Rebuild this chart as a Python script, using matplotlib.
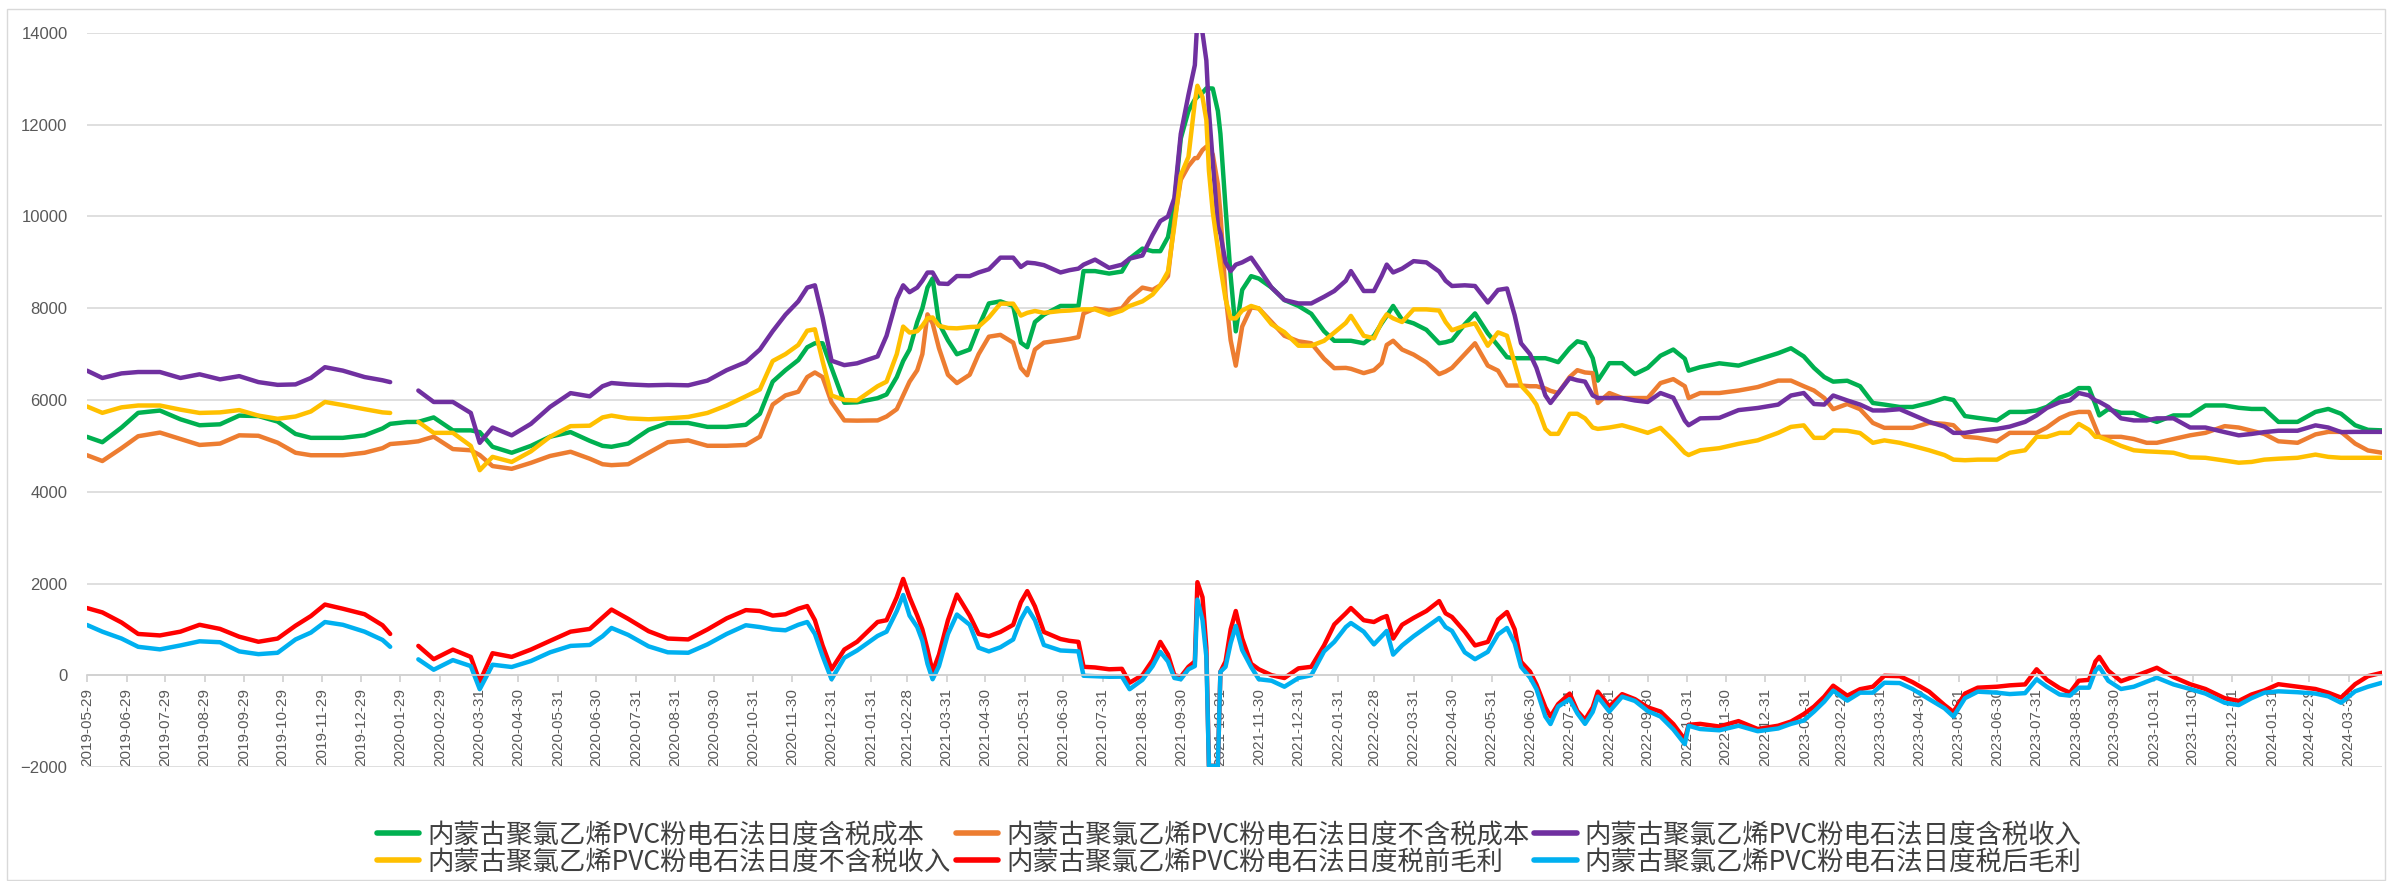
import numpy as np
import pandas as pd
import matplotlib
matplotlib.use('Agg')
import matplotlib.pyplot as plt
from matplotlib.patches import Rectangle

# dates (gap in Jan/Feb 2020 for the revenue / profit series)
dates = [
    "2019-05-29", "2019-06-10", "2019-06-25", "2019-07-08", "2019-07-25", "2019-08-10", "2019-08-25", "2019-09-10",
    "2019-09-25", "2019-10-10", "2019-10-25", "2019-11-08", "2019-11-20", "2019-12-01", "2019-12-15", "2020-01-01",
    "2020-01-15", "2020-01-21", "2020-02-03", "2020-02-12", "2020-02-24", "2020-03-10", "2020-03-24", "2020-03-31",
    "2020-04-10", "2020-04-25", "2020-05-10", "2020-05-25", "2020-06-10", "2020-06-25", "2020-07-05", "2020-07-12",
    "2020-07-25", "2020-08-10", "2020-08-25", "2020-09-10", "2020-09-25", "2020-10-10", "2020-10-25", "2020-11-05",
    "2020-11-15", "2020-11-25", "2020-12-05", "2020-12-12", "2020-12-18", "2020-12-24", "2020-12-31", "2021-01-10",
    "2021-01-20", "2021-02-05", "2021-02-12", "2021-02-20", "2021-02-25", "2021-03-02", "2021-03-08", "2021-03-12",
    "2021-03-16", "2021-03-20", "2021-03-25", "2021-04-01", "2021-04-08", "2021-04-18", "2021-04-25", "2021-05-03",
    "2021-05-12", "2021-05-22", "2021-05-28", "2021-06-02", "2021-06-08", "2021-06-15", "2021-06-28", "2021-07-05",
    "2021-07-12", "2021-07-16", "2021-07-25", "2021-08-05", "2021-08-15", "2021-08-21", "2021-08-31", "2021-09-08",
    "2021-09-14", "2021-09-20", "2021-09-25", "2021-09-30", "2021-10-06", "2021-10-11", "2021-10-13", "2021-10-17",
    "2021-10-20", "2021-10-22", "2021-10-25", "2021-10-29", "2021-10-31", "2021-11-04", "2021-11-08", "2021-11-12",
    "2021-11-17", "2021-11-24", "2021-11-30", "2021-12-10", "2021-12-20", "2021-12-31", "2022-01-10", "2022-01-20",
    "2022-01-28", "2022-02-06", "2022-02-10", "2022-02-20", "2022-02-28", "2022-03-06", "2022-03-10", "2022-03-15",
    "2022-03-22", "2022-03-31", "2022-04-10", "2022-04-20", "2022-04-25", "2022-04-30", "2022-05-10", "2022-05-18",
    "2022-05-28", "2022-06-05", "2022-06-12", "2022-06-18", "2022-06-23", "2022-06-30", "2022-07-05", "2022-07-12",
    "2022-07-16", "2022-07-22", "2022-07-31", "2022-08-06", "2022-08-12", "2022-08-18", "2022-08-22", "2022-08-31",
    "2022-09-10", "2022-09-20", "2022-09-30", "2022-10-10", "2022-10-20", "2022-10-29", "2022-11-01", "2022-11-10",
    "2022-11-25", "2022-12-10", "2022-12-25", "2023-01-10", "2023-01-20", "2023-01-30", "2023-02-07", "2023-02-15",
    "2023-02-22", "2023-03-05", "2023-03-15", "2023-03-25", "2023-04-03", "2023-04-15", "2023-04-25", "2023-05-08",
    "2023-05-20", "2023-05-27", "2023-06-05", "2023-06-15", "2023-06-30", "2023-07-10", "2023-07-22", "2023-07-31",
    "2023-08-08", "2023-08-18", "2023-08-26", "2023-09-02", "2023-09-10", "2023-09-15", "2023-09-18", "2023-09-25",
    "2023-10-05", "2023-10-15", "2023-10-25", "2023-11-02", "2023-11-15", "2023-11-28", "2023-12-10", "2023-12-25",
    "2024-01-05", "2024-01-15", "2024-01-25", "2024-02-05", "2024-02-20", "2024-03-05", "2024-03-15", "2024-03-25",
    "2024-04-05", "2024-04-15", "2024-04-26",
]

nan = np.nan

cost_tax = [
    5197, 5080, 5400, 5720, 5770, 5580, 5450, 5470, 5660, 5650, 5530, 5260, 5175, 5175, 5175, 5230,
    5380, 5480, 5520, 5523, 5620, 5338, 5338, 5300, 4980, 4850, 5000, 5200, 5300, 5110, 5000, 4980,
    5050, 5350, 5500, 5500, 5414, 5414, 5460, 5700, 6400, 6650, 6870, 7150, 7237, 7237, 6700, 5940,
    5950, 6040, 6120, 6500, 6850, 7100, 7700, 8000, 8450, 8650, 7671, 7300, 6998, 7100, 7600, 8105,
    8150, 8050, 7250, 7150, 7700, 7860, 8050, 8050, 8050, 8810, 8810, 8756, 8800, 9082, 9300, 9244,
    9244, 9550, 10300, 11700, 12300, 12550, 12608, 12700, 12793, 12793, 12790, 12300, 11800, 10200, 8700, 7497,
    8400, 8700, 8647, 8450, 8180, 8050, 7880, 7500, 7291, 7291, 7291, 7237, 7400, 7671, 7834, 8050,
    7750, 7671, 7530, 7237, 7260, 7300, 7650, 7888, 7454, 7183, 6933, 6911, 6911, 6911, 6911, 6911,
    6880, 6825, 7128, 7280, 7237, 6911, 6423, 6803, 6803, 6564, 6700, 6965, 7100, 6900, 6640, 6716,
    6800, 6750, 6880, 7020, 7128, 6950, 6700, 6500, 6400, 6420, 6300, 5935, 5900, 5848, 5848, 5935,
    6043, 6000, 5650, 5610, 5555, 5740, 5740, 5772, 5850, 6050, 6130, 6260, 6260, 5900, 5664, 5800,
    5720, 5720, 5600, 5523, 5664, 5664, 5881, 5881, 5830, 5805, 5805, 5523, 5523, 5740, 5805, 5700,
    5450, 5350, 5338,
]

cost_notax = [
    4796, 4670, 4950, 5210, 5290, 5150, 5020, 5050, 5230, 5220, 5070, 4850, 4796, 4796, 4796, 4850,
    4950, 5040, 5070, 5100, 5200, 4930, 4904, 4800, 4560, 4500, 4630, 4780, 4872, 4720, 4600, 4580,
    4600, 4850, 5080, 5120, 5002, 5002, 5020, 5200, 5900, 6100, 6180, 6500, 6600, 6500, 5950, 5555,
    5550, 5555, 5640, 5800, 6098, 6400, 6650, 7000, 7867, 7671, 7128, 6550, 6369, 6550, 7000, 7380,
    7420, 7250, 6700, 6540, 7100, 7250, 7300, 7330, 7370, 7888, 7996, 7950, 8000, 8213, 8450, 8400,
    8500, 8700, 9900, 10800, 11100, 11273, 11273, 11450, 11522, 11500, 11350, 10700, 10058, 8300, 7300, 6749,
    7600, 8018, 7996, 7700, 7400, 7280, 7237, 6900, 6694, 6700, 6680, 6586, 6650, 6803, 7200, 7291,
    7100, 6990, 6820, 6564, 6620, 6700, 7000, 7237, 6749, 6640, 6315, 6315, 6315, 6300, 6300, 6250,
    6200, 6152, 6500, 6650, 6600, 6586, 5935, 6152, 6043, 6043, 6043, 6369, 6455, 6300, 6043, 6152,
    6152, 6206, 6282, 6423, 6423, 6300, 6206, 6043, 5800, 5913, 5800, 5501, 5393, 5393, 5393, 5501,
    5480, 5450, 5200, 5175, 5100, 5284, 5284, 5284, 5400, 5600, 5700, 5740, 5740, 5400, 5197, 5197,
    5197, 5150, 5067, 5067, 5150, 5230, 5284, 5430, 5400, 5330, 5260, 5100, 5067, 5250, 5305, 5305,
    5050, 4900, 4850,
]

rev_tax = [
    6640, 6480, 6580, 6610, 6610, 6480, 6560, 6450, 6520, 6390, 6330, 6340, 6480, 6715, 6640, 6500,
    6430, 6390, nan, 6206, 5957, 5957, 5718, 5067, 5400, 5230, 5480, 5850, 6150, 6080, 6300, 6370,
    6340, 6320, 6330, 6320, 6423, 6650, 6825, 7100, 7500, 7860, 8150, 8450, 8500, 7800, 6857, 6760,
    6800, 6950, 7400, 8200, 8500, 8350, 8452, 8600, 8778, 8780, 8539, 8530, 8702, 8700, 8780, 8850,
    9103, 9103, 8900, 8995, 8980, 8940, 8780, 8830, 8864, 8950, 9060, 8880, 8950, 9082, 9150, 9600,
    9900, 10000, 10400, 11800, 12650, 13300, 14300, 14000, 13400, 12300, 11200, 9787, 9624, 9000, 8810, 8950,
    9000, 9103, 8864, 8450, 8180, 8105, 8105, 8250, 8376, 8600, 8810, 8376, 8376, 8702, 8951, 8780,
    8864, 9027, 9000, 8800, 8600, 8485, 8500, 8485, 8126, 8400, 8430, 7850, 7237, 7000, 6700, 6100,
    5935, 6152, 6477, 6430, 6400, 6100, 6043, 6043, 6043, 5990, 5957, 6152, 6050, 5550, 5450, 5600,
    5610, 5780, 5826, 5900, 6098, 6152, 5913, 5900, 6098, 5990, 5900, 5772, 5772, 5800, 5680, 5523,
    5420, 5284, 5284, 5330, 5370, 5420, 5523, 5664, 5826, 5950, 5990, 6152, 6100, 5990, 5960, 5850,
    5600, 5555, 5555, 5600, 5600, 5400, 5400, 5300, 5230, 5260, 5300, 5330, 5330, 5447, 5400, 5300,
    5305, 5305, 5305,
]

rev_notax = [
    5859, 5720, 5840, 5880, 5880, 5790, 5718, 5730, 5780, 5660, 5590, 5640, 5750, 5957, 5890, 5800,
    5730, 5718, nan, 5523, 5284, 5284, 5000, 4470, 4760, 4650, 4880, 5200, 5430, 5440, 5620, 5660,
    5600, 5580, 5600, 5631, 5718, 5880, 6080, 6230, 6850, 7000, 7200, 7510, 7541, 6850, 6098, 6000,
    5990, 6300, 6400, 7000, 7600, 7470, 7500, 7620, 7780, 7800, 7617, 7570, 7562, 7590, 7600, 7800,
    8100, 8100, 7840, 7900, 7940, 7900, 7940, 7950, 7970, 7975, 7975, 7860, 7950, 8050, 8150, 8300,
    8500, 8800, 9800, 10900, 11300, 12500, 12850, 12600, 12100, 11000, 10100, 9300, 8900, 8200, 7780, 7780,
    7950, 8050, 7996, 7650, 7480, 7183, 7183, 7290, 7470, 7680, 7834, 7400, 7345, 7700, 7867, 7780,
    7700, 7975, 7975, 7950, 7700, 7520, 7620, 7671, 7183, 7475, 7400, 6800, 6315, 6100, 5900, 5370,
    5262, 5262, 5700, 5700, 5600, 5400, 5370, 5400, 5450, 5370, 5284, 5393, 5121, 4850, 4800, 4904,
    4950, 5045, 5121, 5284, 5414, 5447, 5175, 5175, 5338, 5330, 5280, 5067, 5120, 5067, 5000, 4904,
    4800, 4700, 4687, 4700, 4700, 4850, 4904, 5197, 5197, 5284, 5284, 5479, 5350, 5197, 5197, 5121,
    5000, 4904, 4880, 4870, 4850, 4750, 4740, 4680, 4633, 4650, 4700, 4720, 4740, 4810, 4760, 4740,
    4740, 4740, 4741,
]

profit_pre = [
    1465, 1370, 1150, 900, 868, 950, 1100, 1010, 840, 730, 800, 1080, 1290, 1541, 1450, 1330,
    1090, 900, nan, 640, 350, 560, 400, -141, 480, 400, 560, 750, 950, 1010, 1260, 1432,
    1230, 960, 800, 781, 998, 1240, 1420, 1400, 1300, 1330, 1450, 1508, 1200, 650, 130, 560,
    730, 1161, 1200, 1700, 2100, 1700, 1300, 1000, 564, 76, 450, 1200, 1758, 1300, 900, 850,
    944, 1100, 1590, 1834, 1500, 944, 790, 750, 727, 184, 170, 130, 140, -163, 0, 330,
    727, 450, 0, -33, 184, 300, 2029, 1700, 600, -1975, -1975, -1975, 76, 300, 1000, 1400,
    800, 250, 130, 0, -60, 150, 184, 650, 1107, 1350, 1465, 1200, 1161, 1250, 1291, 800,
    1100, 1250, 1400, 1617, 1350, 1270, 950, 650, 727, 1215, 1378, 1000, 293, 80, -200, -700,
    -900, -629, -400, -780, -970, -700, -358, -683, -412, -521, -700, -792, -1063, -1400, -1080, -1060,
    -1118, -1000, -1172, -1100, -1009, -846, -683, -467, -228, -445, -304, -250, -11, -20, -150, -358,
    -650, -800, -400, -271, -250, -220, -200, 130, -100, -280, -380, -119, -100, 300, 400, 100,
    -130, -30, 76, 163, -40, -195, -300, -500, -560, -420, -330, -195, -250, -300, -380, -488,
    -195, -20, 54,
]

profit_post = [
    1096, 950, 800, 620, 564, 650, 740, 720, 520, 460, 490, 780, 930, 1160, 1100, 950,
    770, 620, nan, 347, 120, 330, 200, -304, 230, 180, 310, 500, 640, 660, 850, 1031,
    880, 630, 500, 490, 673, 900, 1090, 1050, 1000, 980, 1100, 1161, 900, 420, -87, 380,
    540, 857, 950, 1400, 1750, 1300, 1050, 750, 250, -87, 200, 900, 1324, 1100, 600, 520,
    610, 780, 1215, 1465, 1200, 660, 540, 530, 520, -11, -20, -33, -30, -304, -100, 200,
    510, 300, -60, -87, 130, 200, 1649, 1200, 400, -1975, -1975, -1975, 76, 184, 700, 1074,
    550, 180, -87, -120, -250, -60, 0, 520, 727, 1050, 1139, 950, 673, 850, 966, 450,
    650, 850, 1050, 1248, 1050, 966, 500, 350, 510, 890, 1031, 700, 184, -50, -300, -900,
    -1063, -683, -521, -830, -1060, -800, -467, -792, -467, -560, -780, -900, -1180, -1500, -1100, -1172,
    -1200, -1100, -1220, -1160, -1060, -987, -792, -575, -336, -553, -380, -380, -163, -170, -300, -521,
    -720, -900, -500, -358, -380, -410, -390, -87, -250, -420, -445, -271, -271, 100, 184, -120,
    -300, -250, -141, -54, -200, -300, -400, -600, -650, -500, -380, -350, -370, -400, -460, -600,
    -350, -250, -163,
]

labels = [
    "内蒙古聚氯乙烯PVC粉电石法日度含税成本",
    "内蒙古聚氯乙烯PVC粉电石法日度不含税成本",
    "内蒙古聚氯乙烯PVC粉电石法日度含税收入",
    "内蒙古聚氯乙烯PVC粉电石法日度不含税收入",
    "内蒙古聚氯乙烯PVC粉电石法日度税前毛利",
    "内蒙古聚氯乙烯PVC粉电石法日度税后毛利",
]
colors = ["#00B050", "#ED7D31", "#7030A0", "#FFC000", "#FF0000", "#00B0F0"]

# axis labels: Excel monthly date axis (29th until Feb 2020, month ends after)
tick_dates = ["2019-05-29", "2019-06-29", "2019-07-29", "2019-08-29", "2019-09-29",
              "2019-10-29", "2019-11-29", "2019-12-29", "2020-01-29"]
tick_dates += list(pd.date_range("2020-02-29", "2024-03-31", freq="ME").strftime("%Y-%m-%d"))

W, H = 2387, 881
fig = plt.figure(figsize=(W / 100, H / 100), dpi=100)
ax = fig.add_axes([87 / W, 1 - 767 / H, (2382 - 87) / W, (767 - 33) / H])

x = pd.to_datetime(dates)
series = [cost_tax, cost_notax, rev_tax, rev_notax, profit_pre, profit_post]
lines = []
for vals, c, lab in zip(series, colors, labels):
    ln, = ax.plot(x, np.array(vals, dtype=float), color=c, lw=3.2, label=lab,
                  solid_joinstyle="round", solid_capstyle="round")
    lines.append(ln)

ax.set_ylim(-2000, 14000)
ax.set_xlim(x[0], x[-1])
ax.set_yticks(range(-2000, 14001, 2000))
ax.grid(axis="y", color="#d9d9d9", lw=1.2)
ax.set_axisbelow(True)
for s in ["top", "right", "left"]:
    ax.spines[s].set_visible(False)
ax.spines["bottom"].set_position(("data", 0))
ax.spines["bottom"].set_color("#d0d0d0")
ax.spines["bottom"].set_linewidth(1.2)

ax.set_xticks(pd.to_datetime(tick_dates))
ax.set_xticklabels(tick_dates, rotation=90, family="Liberation Sans")
ax.tick_params(axis="y", length=0, pad=14, labelsize=12, labelcolor="#595959")
ax.tick_params(axis="x", length=5, width=1.2, color="#d0d0d0", pad=4, labelsize=11, labelcolor="#595959")
for t in ax.get_yticklabels():
    t.set_family("Liberation Sans")

# legend in Excel row order (matplotlib fills by column)
order = [0, 3, 1, 4, 2, 5]
leg = fig.legend([lines[i] for i in order], [labels[i] for i in order], ncol=3,
                 loc="center", bbox_to_anchor=(0.515, 0.037), frameon=False,
                 prop={"family": ["Noto Sans CJK SC", "DejaVu Sans"], "size": 19},
                 handlelength=1.6, handletextpad=0.3, columnspacing=0.2, labelspacing=0.0,
                 labelcolor="#404040")
for ln in leg.get_lines():
    ln.set_linewidth(4)

fig.add_artist(Rectangle((7 / W, 1 / H), (2385 - 7) / W, (872 - 1) / H, transform=fig.transFigure,
                         fill=False, edgecolor="#d9d9d9", lw=1))

fig.savefig("out.png", dpi=100)
